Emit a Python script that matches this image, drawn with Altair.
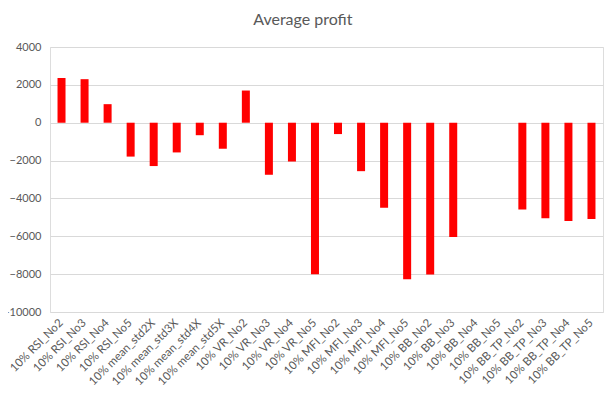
import altair as alt
import pandas as pd

categories = [
    "10% RSI_No2", "10% RSI_No3", "10% RSI_No4", "10% RSI_No5",
    "10% mean_std2X", "10% mean_std3X", "10% mean_std4X", "10% mean_std5X",
    "10% VR_No2", "10% VR_No3", "10% VR_No4", "10% VR_No5",
    "10% MFI_No2", "10% MFI_No3", "10% MFI_No4", "10% MFI_No5",
    "10% BB_No2", "10% BB_No3", "10% BB_No4", "10% BB_No5",
    "10% BB_TP_No2", "10% BB_TP_No3", "10% BB_TP_No4", "10% BB_TP_No5",
]
profits = [
    2360, 2300, 980, -1790,
    -2290, -1570, -660, -1375,
    1700, -2750, -2050, -8000,
    -600, -2560, -4490, -8270,
    -8020, -6040, 0, 0,
    -4590, -5050, -5190, -5090,
]
y_ticks = [-10000, -8000, -6000, -4000, -2000, 0, 2000, 4000]

df = pd.DataFrame({"category": categories, "profit": profits})

chart = (
    alt.Chart(df)
    .mark_bar(size=8, color="#FF0000")
    .encode(
        x=alt.X(
            "category:N",
            sort=categories,
            title=None,
            scale=alt.Scale(paddingInner=0, paddingOuter=0),
            axis=alt.Axis(
                labelAngle=-45,
                labelAlign="right",
                labelBaseline="middle",
                domain=False,
                ticks=False,
                grid=False,
                labelPadding=9,
                labelFontSize=11.5,
                labelColor="#595959",
                labelFont="Lato",
            ),
        ),
        y=alt.Y(
            "profit:Q",
            title=None,
            scale=alt.Scale(domain=[-10000, 4000], nice=False),
            axis=alt.Axis(
                values=y_ticks,
                format="d",
                domain=False,
                ticks=False,
                gridColor="#D9D9D9",
                labelPadding=9,
                labelFontSize=11,
                labelColor="#595959",
                labelFont="Lato",
            ),
        ),
    )
    .properties(
        width=553,
        height=265,
        autosize=alt.AutoSizeParams(type="none"),
        padding={"left": 42, "top": 39, "right": 4, "bottom": 74},
        title=alt.TitleParams(
            "Average profit",
            fontSize=16,
            font="Lato",
            fontWeight="normal",
            color="#595959",
            anchor="middle",
            frame="bounds",
            offset=13,
        ),
    )
    .configure_view(stroke=None)
    .configure(background="white")
)

chart.save("out.html", embed_options={"renderer": "svg", "actions": False})
